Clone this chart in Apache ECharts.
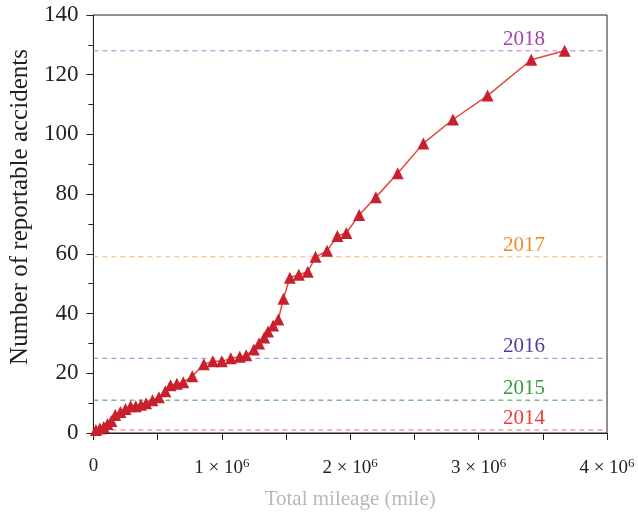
<!DOCTYPE html>
<html><head><meta charset="utf-8">
<script src="https://cdn.jsdelivr.net/npm/echarts@6/dist/echarts.min.js"></script>
<style>html,body{margin:0;padding:0;background:#fff}#c{width:638px;height:515px}</style>
</head><body><div id="c"></div>
<script>
// Total mileage (millions of miles)
const mileage = [0.02,0.05,0.08,0.11,0.14,0.17,0.21,0.25,0.29,0.33,0.37,0.41,0.46,0.51,0.56,0.60,0.65,0.70,0.77,0.86,0.93,1.00,1.07,1.14,1.19,1.25,1.29,1.33,1.36,1.40,1.44,1.48,1.53,1.60,1.67,1.73,1.82,1.90,1.97,2.07,2.20,2.37,2.57,2.80,3.07,3.41,3.67];
// Cumulative reportable accidents
const accidents = [1,1.5,2,3,4,6,7,8,9,9,9.5,10,11,12,14,16,16.5,17,19,23,24,24,25,25.5,26,28,30,32,34,36,38,45,52,53,54,59,61,66,67,73,79,87,97,105,113,125,128];
// Year reference levels
const years = ['2014','2015','2016','2017','2018'];
const yearLevels = [1,11,25,59,128];
const yearTextColors = ['#e8403a','#3a9a3c','#4a3f9c','#f08a2c','#a544a8'];
const yearLineColors = ['#e07070','#3a9a4a','#8a8ad8','#f0b47a','#b878cc'];
const xMin = 0, xMax = 4e6;

const chart = echarts.init(document.getElementById('c'));
const serif = '"Liberation Serif","DejaVu Serif",serif';
const data = mileage.map((m,i)=>[m*1e6, accidents[i]]);
const refSeries = years.map((y,i)=>({
  type:'line', silent:true, symbol:'none', z:2,
  data:[[xMin, yearLevels[i]],[xMax, yearLevels[i]]],
  lineStyle:{color:yearLineColors[i], type:[5,4], width:1},
  endLabel:{show:true, formatter:y, color:yearTextColors[i], fontFamily:serif, fontSize:21,
    align:'center', verticalAlign:'bottom', distance:0, offset:[-83,-1]}
}));
chart.setOption({
  animation:false,
  grid:{left:93, top:15, right:31, bottom:81, show:true, borderColor:'#222', borderWidth:1},
  xAxis:{
    type:'value', min:xMin, max:xMax, interval:1e6,
    name:'Total mileage (mile)', nameLocation:'middle', nameGap:56,
    nameTextStyle:{color:'#b8b8b8', fontFamily:serif, fontSize:21},
    axisLine:{show:true, onZero:false, lineStyle:{color:'#222'}},
    axisTick:{show:true, length:7, lineStyle:{color:'#222'}},
    minorTick:{show:true, splitNumber:2, length:7, lineStyle:{color:'#222'}},
    splitLine:{show:false},
    axisLabel:{margin:24, color:'#222', fontFamily:serif, fontSize:19,
      formatter:function(v){const k=Math.round(v/1e6); if(k===0) return '{a|0}'; return '{a|'+k+' × 10}{s|6}';},
      rich:{a:{fontFamily:serif,fontSize:19,color:'#222'}, s:{fontFamily:serif,fontSize:13,color:'#222',verticalAlign:'top',padding:[0,0,9,0]}}
    }
  },
  yAxis:{
    type:'value', min:0, max:140, interval:20,
    name:'Number of reportable accidents', nameLocation:'middle', nameGap:60,
    nameTextStyle:{color:'#222', fontFamily:serif, fontSize:25, padding:[0,0,0,34]},
    axisLine:{show:true, lineStyle:{color:'#222'}},
    axisTick:{show:true, length:7, lineStyle:{color:'#222'}},
    minorTick:{show:true, splitNumber:2, length:5, lineStyle:{color:'#222'}},
    splitLine:{show:false},
    axisLabel:{margin:15, color:'#222', fontFamily:serif, fontSize:23}
  },
  series:[...refSeries, {
    type:'line', data:data, symbol:'triangle', symbolSize:12,
    itemStyle:{color:'#c8202c'},
    lineStyle:{color:'#e04a3a', width:1.5},
    z:5
  }]
});
</script></body></html>
